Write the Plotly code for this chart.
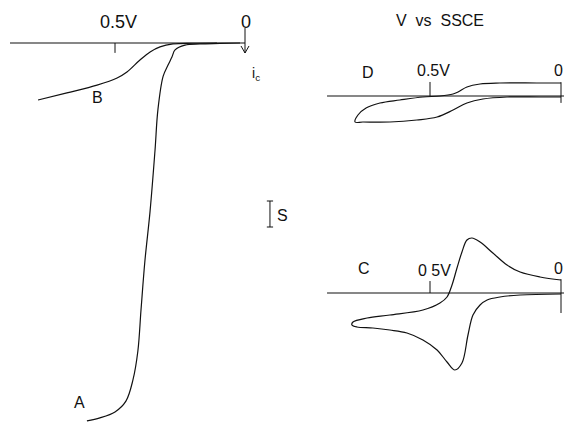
import plotly.graph_objects as go

# ---------------- data (potential in V vs SSCE, current in scale-bar units) ----------------
# Left panel: curves A and B
a_potential = [0.019, 0.096, 0.173, 0.231, 0.269, 0.281, 0.296, 0.315, 0.335, 0.346, 0.365,
               0.385, 0.400, 0.412, 0.431, 0.458, 0.500, 0.558, 0.608]
a_current = [0.0, -0.02, -0.04, -0.09, -0.30, -0.61, -0.96, -1.45, -2.91, -4.65, -7.30,
             -9.48, -11.61, -13.39, -14.65, -15.57, -16.04, -16.30, -16.43]

b_potential = [0.108, 0.200, 0.277, 0.327, 0.365, 0.404, 0.454, 0.492, 0.569, 0.685, 0.796]
b_current = [0.0, -0.01, -0.04, -0.17, -0.39, -0.74, -1.26, -1.52, -1.83, -2.17, -2.48]

left_base_potential = [0.904, 0.0]
left_base_current = [0.0, 0.0]

# Right top panel: cyclic voltammogram D
d_potential = [0.0, 0.092, 0.233, 0.309, 0.359, 0.393, 0.412, 0.462, 0.527, 0.615, 0.691,
               0.744, 0.775, 0.786, 0.756, 0.653, 0.550, 0.473, 0.412, 0.359, 0.298,
               0.206, 0.080, 0.0]
d_current = [0.565, 0.565, 0.565, 0.522, 0.391, 0.174, 0.087, 0.0, -0.043, -0.174, -0.304,
             -0.522, -0.826, -1.130, -1.130, -1.130, -1.043, -0.913, -0.609, -0.304, -0.130,
             -0.043, -0.043, -0.043]

# Right bottom panel: cyclic voltammogram C
c_potential = [0.0, 0.080, 0.156, 0.206, 0.260, 0.309, 0.340, 0.359, 0.378, 0.397, 0.416,
               0.435, 0.462, 0.527, 0.653, 0.740, 0.794, 0.798, 0.779, 0.718, 0.653, 0.588,
               0.527, 0.473, 0.435, 0.405, 0.378, 0.355, 0.336, 0.309, 0.282, 0.233, 0.156, 0.0]
c_current = [0.565, 0.696, 0.913, 1.217, 1.739, 2.217, 2.391, 2.304, 1.783, 1.087, 0.348,
             -0.174, -0.435, -0.739, -0.957, -1.087, -1.261, -1.391, -1.478, -1.522, -1.609, -1.739,
             -2.043, -2.478, -3.000, -3.348, -3.043, -1.826, -0.957, -0.522, -0.304, -0.174, -0.087, -0.043]

right_base_potential = [0.893, -0.02]
right_base_current = [0.0, 0.0]

tick_potential = 0.5
zero_potential = 0.0
scale_bar_potential = -0.096
scale_bar_current = [-6.87, -8.0]

# ---------------- figure ----------------
fig = go.Figure()
ink = dict(color="#111111", width=1.2)
thin = dict(color="#111111", width=1.0)


def add(x, y, ax, line=ink, shape="linear"):
    fig.add_trace(go.Scatter(x=x, y=y, mode="lines", line=dict(**line, shape=shape),
                             xaxis="x" + ax, yaxis="y" + ax, showlegend=False,
                             hoverinfo="skip"))


# left panel
add(left_base_potential, left_base_current, "")
add([tick_potential, tick_potential], [0, -0.43], "", thin)
add(a_potential, a_current, "", ink, "spline")
add(b_potential, b_current, "", ink, "spline")
# current arrow at 0 V
add([zero_potential, zero_potential], [0.65, -0.435], "", thin)
add([zero_potential + 0.0154, zero_potential, zero_potential - 0.0154], [-0.13, -0.435, -0.13], "", thin)
# scale bar
sb = scale_bar_potential
add([sb, sb], scale_bar_current, "", thin)
add([sb - 0.012, sb + 0.012], [scale_bar_current[0]] * 2, "", thin)
add([sb - 0.012, sb + 0.012], [scale_bar_current[1]] * 2, "", thin)

# top right panel (D)
add(right_base_potential, right_base_current, "2")
add([tick_potential, tick_potential], [0, 0.61], "2", thin)
add([zero_potential, zero_potential], [0.6, -0.30], "2", thin)
add(d_potential, d_current, "2", ink, "spline")

# bottom right panel (C)
add(right_base_potential, right_base_current, "3")
add([tick_potential, tick_potential], [0, 0.52], "3", thin)
add([zero_potential, zero_potential], [0.6, -0.87], "3", thin)
add(c_potential, c_current, "3", ink, "spline")

font_big = dict(family="Liberation Sans", size=18, color="#111111")
font_mid = dict(family="Liberation Sans", size=16, color="#111111")


def label(text, x, y, ax, font):
    fig.add_annotation(text=text, x=x, y=y, xref="x" + ax, yref="y" + ax,
                       showarrow=False, font=font, xanchor="center", yanchor="middle")


label("0.5V", 0.488, 0.913, "", font_big)
label("0", -0.004, 0.913, "", font_big)
label("i<sub>c</sub>", -0.044, -1.35, "", dict(family="Liberation Sans", size=14, color="#111111"))
label("B", 0.569, -2.39, "", font_mid)
label("A", 0.635, -15.65, "", font_mid)
fig.add_annotation(text="S", x=0.5, y=1 - 215 / 422, xref="paper", yref="paper",
                   showarrow=False, font=font_mid, xanchor="center", yanchor="middle")

label("V  vs  SSCE", 0.462, 3.30, "2", font_mid)
label("D", 0.737, 1.04, "2", font_mid)
label("0.5V", 0.485, 1.09, "2", font_mid)
label("0", 0.008, 1.09, "2", font_mid)

label("C", 0.752, 1.087, "3", font_mid)
label("0 5V", 0.481, 1.0, "3", font_mid)
label("0", 0.008, 1.087, "3", font_mid)

hidden = dict(visible=False, showgrid=False, zeroline=False, fixedrange=True)
fig.update_layout(
    width=564, height=422,
    margin=dict(l=0, r=0, t=0, b=0),
    paper_bgcolor="white", plot_bgcolor="rgba(0,0,0,0)",
    xaxis=dict(hidden, domain=[0, 0.5], range=[245 / 260, -37 / 260]),
    yaxis=dict(hidden, domain=[0, 1], range=[-379 / 23, 43 / 23]),
    xaxis2=dict(hidden, domain=[0.5, 1], range=[279 / 262, -3 / 262]),
    yaxis2=dict(hidden, domain=[0.5, 1], range=[-115 / 23, 96 / 23]),
    xaxis3=dict(hidden, domain=[0.5, 1], range=[279 / 262, -3 / 262]),
    yaxis3=dict(hidden, domain=[0, 0.5], range=[-129 / 23, 82 / 23]),
)

fig.write_html("out.html", config={"displayModeBar": False},
               post_script="document.body.style.margin='0';document.body.style.overflow='hidden';")
